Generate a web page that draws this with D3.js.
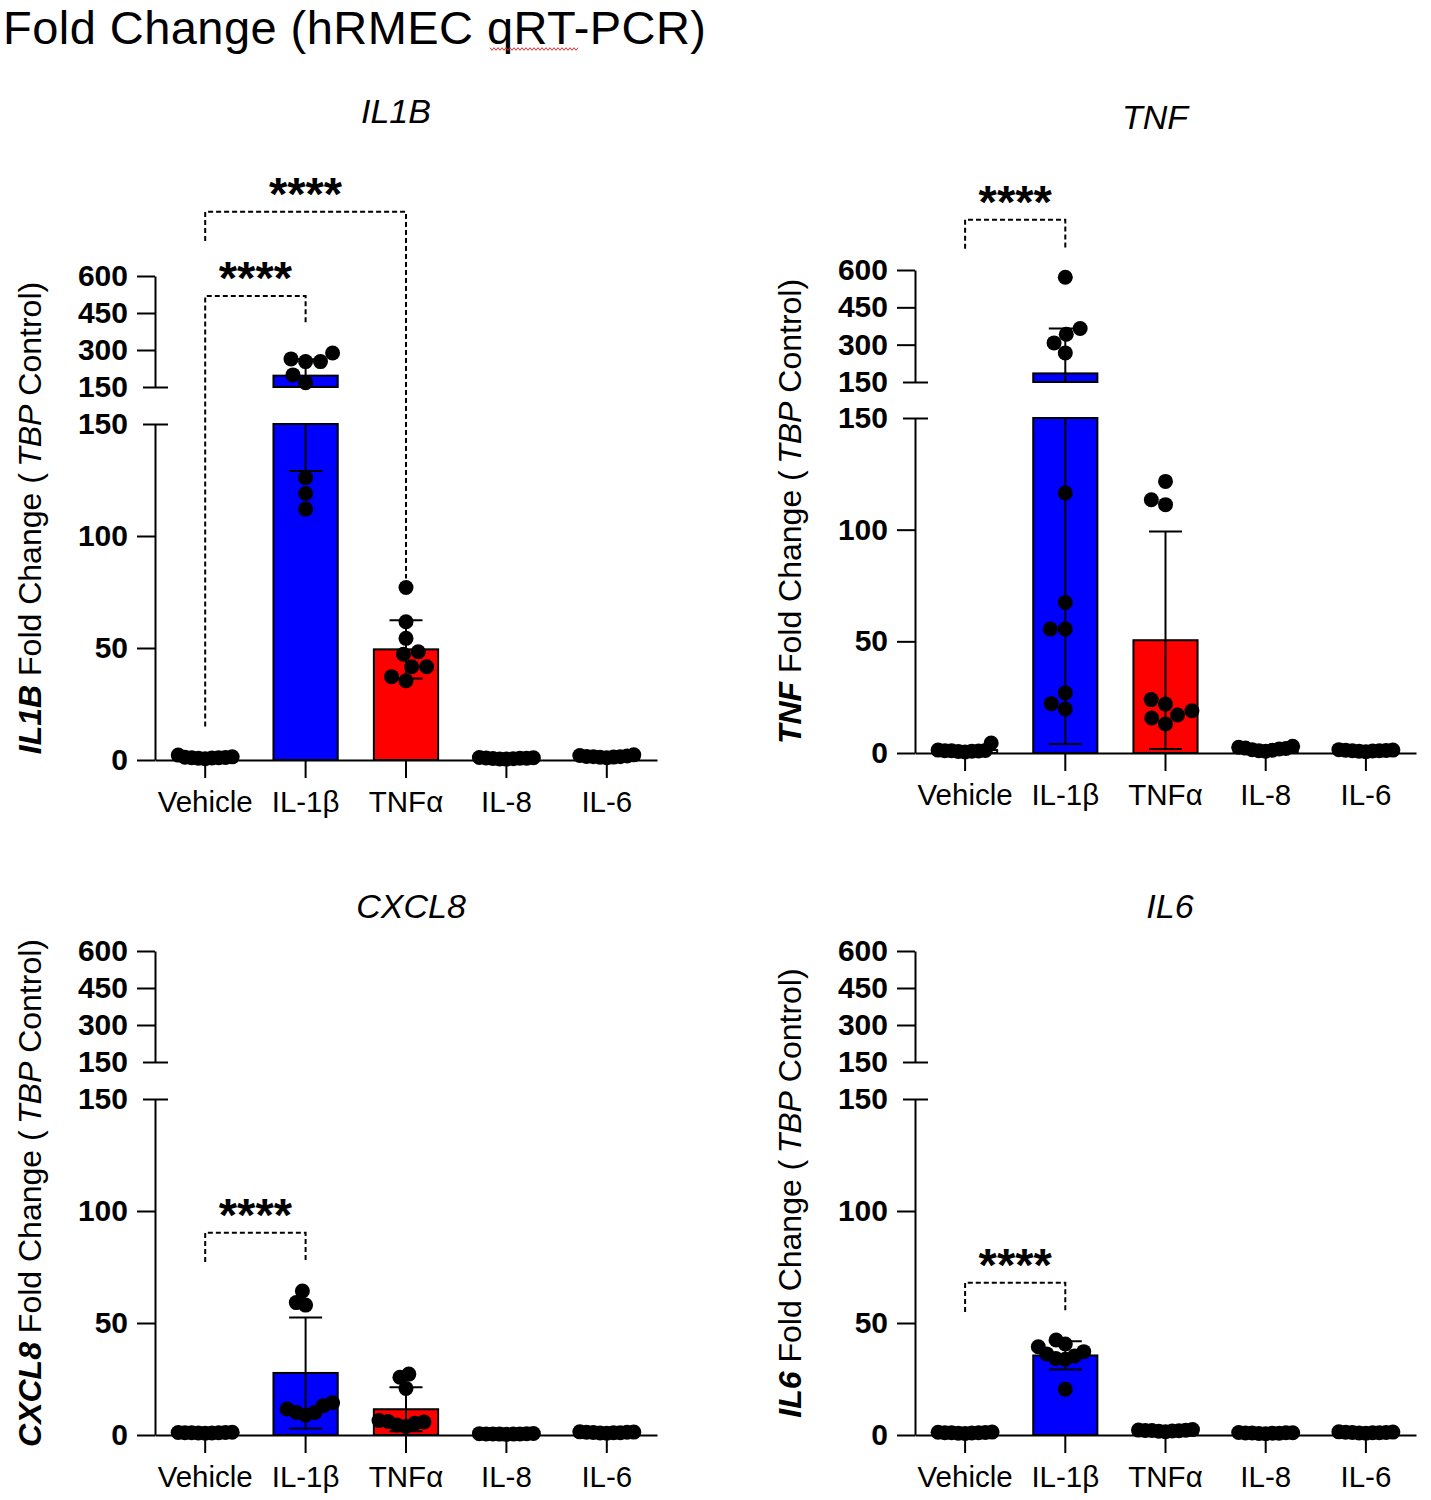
<!DOCTYPE html>
<meta charset="utf-8">
<head>
    <title>Fold Change (hRMEC qRT-PCR)</title>
    <style>
        html, body {
            margin: 0;
            padding: 0;
            background: #fff;
        }
        svg text {
            font-family: Arial, "Liberation Sans", sans-serif;
            fill: #000;
        }
        .axis path, .axis line {
            stroke: #000;
            stroke-width: 2px;
        }
        .yaxis text {
            font-size: 30px;
            font-weight: bold;
        }
        .xaxis text {
            font-size: 29.5px;
        }
        .bracket {
            fill: none;
            stroke: #000;
            stroke-width: 2px;
            stroke-dasharray: 5,3;
        }
        .errbar {
            stroke: #000;
            stroke-width: 2px;
        }
    </style>
</head>
<body>
    <svg id="chart" width="1431" height="1500"></svg>
    <script src="https://cdn.jsdelivr.net/npm/d3@7"></script>
    <script>
        // treatments on the x axis
        const categories = ["Vehicle", "IL-1β", "TNFα", "IL-8", "IL-6"];
        const lowerTicks = [0, 50, 100, 150];
        const upperTicks = [150, 300, 450, 600];

        // IL1B
        const il1bPoints = [
            [0.6, 0.8, 0.9, 1.0, 1.0, 1.1, 1.2, 1.4, 2.2],
            [253, 264, 253, 288, 199, 167, 126, 119, 112],
            [77, 61.7, 54.3, 47.2, 48.3, 41.6, 41.6, 35.4, 37.2],
            [0.4, 0.5, 0.6, 0.7, 0.8, 0.8, 0.9, 1.0, 1.1],
            [1.0, 1.2, 1.3, 1.5, 1.5, 1.6, 1.8, 2.0, 2.3]
        ];
        const il1bMeans = [1.1, 196, 49.4, 0.8, 1.6];
        const il1bSD = [0.5, 67, 13, 0.2, 0.4];
        const il1bBrackets = [
            {from: 0, to: 1, level: 519, left: 15, right: 401},
            {from: 0, to: 2, level: 860, left: 742, right: 81}
        ];

        // TNF
        const tnfPoints = [
            [0.5, 0.7, 0.8, 0.9, 1.0, 1.0, 1.1, 1.3, 4.5],
            [571, 365, 342, 307, 267, 116.4, 67.4, 55.5, 55.5, 26.9, 22.1, 19.7],
            [121.6, 111.2, 113.4, 21.9, 18.9, 23.9, 15.7, 13.0, 17.0],
            [0.8, 1.0, 1.2, 1.5, 1.8, 2.0, 2.2, 2.6, 3.0],
            [0.6, 0.8, 0.9, 1.0, 1.0, 1.1, 1.2, 1.3, 1.5]
        ];
        const tnfMeans = [1.3, 184.5, 50.5, 1.8, 1.0];
        const tnfSD = [1.2, 180.5, 48.7, 0.7, 0.3];
        const tnfBrackets = [
            {from: 0, to: 1, level: 802, left: 685, right: 685}
        ];

        // CXCL8
        const cxcl8Points = [
            [0.8, 0.9, 0.9, 1.0, 1.0, 1.0, 1.1, 1.1, 1.2],
            [64.3, 58.0, 59.1, 10.1, 14.4, 10.1, 13.1, 8.9, 11.6],
            [25.8, 27.2, 20.8, 4.5, 5.2, 5.8, 6.0, 6.5, 3.8],
            [0.3, 0.4, 0.4, 0.5, 0.5, 0.5, 0.6, 0.6, 0.7],
            [0.8, 0.9, 1.0, 1.0, 1.1, 1.2, 1.2, 1.3, 1.4]
        ];
        const cxcl8Means = [1.0, 27.7, 11.5, 0.5, 1.1];
        const cxcl8SD = [0.1, 24.8, 9.8, 0.1, 0.2];
        const cxcl8Brackets = [
            {from: 0, to: 1, level: 90.3, left: 77.2, right: 77.2}
        ];

        // IL6
        const il6Points = [
            [0.7, 0.8, 0.9, 1.0, 1.0, 1.0, 1.1, 1.2, 1.3],
            [42.4, 39.4, 40.6, 35.3, 34.2, 36.2, 33.8, 37.2, 20.4],
            [1.5, 1.7, 1.8, 1.9, 2.0, 2.0, 2.1, 2.2, 2.4],
            [0.6, 0.7, 0.8, 0.8, 0.9, 0.9, 1.0, 1.0, 1.1],
            [0.8, 0.9, 1.0, 1.0, 1.1, 1.1, 1.2, 1.3, 1.4]
        ];
        const il6Means = [1.0, 35.5, 2.0, 0.9, 1.1];
        const il6SD = [0.2, 6.3, 0.3, 0.2, 0.2];
        const il6Brackets = [
            {from: 0, to: 1, level: 68, left: 54.9, right: 54.9}
        ];

        const barFill = {"IL-1β": "#0000ff", "TNFα": "#ff0000"};
        const R = 7.5;

        const panels = [
            {gene: "IL1B", pts: il1bPoints, mean: il1bMeans, sd: il1bSD, br: il1bBrackets,
             axisX: 155, xEnd: 657, y0: 760, y150: 424, u150: 387, u600: 276, titleX: 396, titleY: 123},
            {gene: "TNF", pts: tnfPoints, mean: tnfMeans, sd: tnfSD, br: tnfBrackets,
             axisX: 915, xEnd: 1416, y0: 753, y150: 418, u150: 382, u600: 270, titleX: 1155, titleY: 129},
            {gene: "CXCL8", pts: cxcl8Points, mean: cxcl8Means, sd: cxcl8SD, br: cxcl8Brackets,
             axisX: 155, xEnd: 657, y0: 1435, y150: 1099, u150: 1062, u600: 951, titleX: 411, titleY: 918},
            {gene: "IL6", pts: il6Points, mean: il6Means, sd: il6SD, br: il6Brackets,
             axisX: 915, xEnd: 1416, y0: 1435, y150: 1099, u150: 1062, u600: 951, titleX: 1170, titleY: 918}
        ];

        const svg = d3.select("#chart");
        svg.append("rect").attr("width", 1431).attr("height", 1500).attr("fill", "#fff");

        svg.append("text")
            .attr("x", 3).attr("y", 44)
            .style("font-size", "47px")
            .style("letter-spacing", "0.45px")
            .text("Fold Change (hRMEC qRT-PCR)");

        // the spell-check squiggle under "qRT"
        svg.append("path")
            .attr("d", d3.line()(d3.range(490, 579, 2).map((x, i) => [x, 49 + (i % 2 ? 1.3 : -1.3)])))
            .attr("fill", "none").attr("stroke", "#e03030").attr("stroke-width", 1);

        // simple beeswarm: nearest free offset to the column center, then squeezed into the bar
        function swarm(ys, D, maxHalf) {
            const order = d3.range(ys.length).sort((a, b) => ys[b] - ys[a]);
            const xs = new Array(ys.length);
            const placed = [];
            for (const i of order) {
                const cands = [0];
                for (const j of placed) {
                    const dy = ys[i] - ys[j];
                    if (Math.abs(dy) < D) {
                        const dx = Math.sqrt(D * D - dy * dy);
                        cands.push(xs[j] + dx, xs[j] - dx);
                    }
                }
                cands.sort((a, b) => Math.abs(a) - Math.abs(b) || a - b);
                xs[i] = cands.find(c => placed.every(j =>
                    (c - xs[j]) ** 2 + (ys[i] - ys[j]) ** 2 >= D * D - 0.01));
                placed.push(i);
            }
            const m = d3.max(xs, Math.abs);
            if (m > maxHalf) return xs.map(x => x * maxHalf / m);
            return xs;
        }

        function drawPanel(p) {
            const g = svg.append("g");
            const lo = d3.scaleLinear().domain([0, 150]).range([p.y0, p.y150]);
            const hi = d3.scaleLinear().domain([150, 600]).range([p.u150, p.u600]);
            const y = v => v <= 150 ? lo(v) : hi(v);
            const x = d3.scaleBand().domain(categories)
                .range([p.axisX, p.xEnd]).paddingInner(0.36).paddingOuter(0.18);
            const bw = x.bandwidth();

            // title
            g.append("text")
                .attr("x", p.titleX).attr("y", p.titleY)
                .attr("text-anchor", "middle")
                .style("font-size", "34px").style("font-style", "italic")
                .text(p.gene);

            // y label
            const lab = g.append("text")
                .attr("transform", `translate(${p.axisX - 114},${(p.u600 + p.y0) / 2}) rotate(-90)`)
                .attr("text-anchor", "middle")
                .style("font-size", "32px");
            lab.append("tspan").style("font-weight", "bold").style("font-style", "italic").text(p.gene);
            lab.append("tspan").text(" Fold Change (\u2009");
            lab.append("tspan").style("font-style", "italic").text("TBP");
            lab.append("tspan").text(" Control)");

            // y axes (broken)
            const fmt = d3.format("d");
            [[lo, lowerTicks], [hi, upperTicks]].forEach(([sc, ticks]) => {
                const ax = g.append("g").attr("class", "axis yaxis")
                    .attr("transform", `translate(${p.axisX},0)`)
                    .call(d3.axisLeft(sc).tickValues(ticks).tickSize(18).tickSizeOuter(0)
                        .tickPadding(9).tickFormat(fmt));
                ax.selectAll(".tick").filter(d => d === 150).select("line")
                    .attr("x1", 13).attr("x2", -12);
            });

            // x axis
            g.append("g").attr("class", "axis xaxis")
                .attr("transform", `translate(0,${p.y0})`)
                .call(d3.axisBottom(x).tickSize(18).tickSizeOuter(0).tickPadding(13));

            // bars
            categories.forEach((c, i) => {
                const m = p.mean[i];
                const fill = barFill[c] || "#fff";
                const bx = x(c);
                g.append("rect")
                    .attr("x", bx).attr("width", bw)
                    .attr("y", lo(Math.min(m, 150)))
                    .attr("height", lo(0) - lo(Math.min(m, 150)))
                    .attr("fill", fill).attr("stroke", "#000").attr("stroke-width", 2);
                if (m > 150) {
                    g.append("rect")
                        .attr("x", bx).attr("width", bw)
                        .attr("y", hi(m)).attr("height", hi(150) - hi(m))
                        .attr("fill", fill).attr("stroke", "#000").attr("stroke-width", 2);
                }

                // error bars (mean ± SD), split at the axis break
                const cx = bx + bw / 2;
                const a = Math.max(m - p.sd[i], 0), b = m + p.sd[i];
                const segs = [];
                if (a < 150) segs.push([lo(a), lo(Math.min(b, 150))]);
                if (b > 150) segs.push([hi(Math.max(a, 150)), hi(b)]);
                segs.forEach(s => g.append("line").attr("class", "errbar")
                    .attr("x1", cx).attr("x2", cx).attr("y1", s[0]).attr("y2", s[1]));
                [a, b].forEach(v => g.append("line").attr("class", "errbar")
                    .attr("x1", cx - 16.5).attr("x2", cx + 16.5).attr("y1", y(v)).attr("y2", y(v)));
            });

            // points
            categories.forEach((c, i) => {
                const ys = p.pts[i].map(y);
                const xs = swarm(ys, 15, 27);
                const cx = x(c) + bw / 2;
                g.selectAll(null).data(p.pts[i]).enter().append("circle")
                    .attr("cx", (d, k) => cx + xs[k])
                    .attr("cy", (d, k) => ys[k])
                    .attr("r", R).attr("fill", "#000");
            });

            // significance brackets
            p.br.forEach(b => {
                const x1 = x(categories[b.from]) + bw / 2;
                const x2 = x(categories[b.to]) + bw / 2;
                const ly = y(b.level);
                g.append("path").attr("class", "bracket")
                    .attr("d", d3.line()([[x1, y(b.left)], [x1, ly], [x2, ly], [x2, y(b.right)]]));
                g.append("text")
                    .attr("x", (x1 + x2) / 2).attr("y", ly - 2)
                    .attr("text-anchor", "middle")
                    .style("font-size", "47px").style("font-weight", "bold")
                    .text("****");
            });
        }

        panels.forEach(drawPanel);
    </script>
</body>
</html>
